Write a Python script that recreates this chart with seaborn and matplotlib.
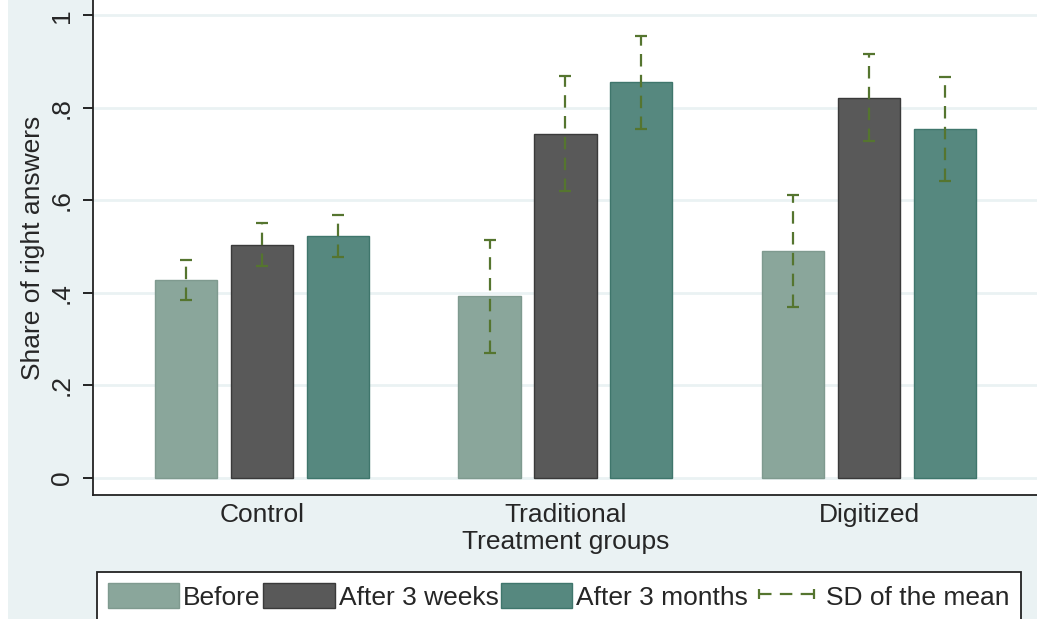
import matplotlib
matplotlib.use("Agg")
import matplotlib.pyplot as plt
import seaborn as sns
import pandas as pd
from matplotlib.patches import Patch, Rectangle
from matplotlib.lines import Line2D

groups = ["Control", "Traditional", "Digitized"]
periods = ["Before", "After 3 weeks", "After 3 months"]
before = [0.428, 0.393, 0.491]
weeks = [0.504, 0.744, 0.822]
months = [0.523, 0.855, 0.754]
sd_before = [0.043, 0.122, 0.121]
sd_weeks = [0.047, 0.124, 0.094]
sd_months = [0.046, 0.100, 0.113]

colors = ["#8AA69B", "#595959", "#56887F"]
edges = ["#7F9A8F", "#3A3A3A", "#3F766C"]
err_col = "#55752F"
bg = "#EAF2F3"
s = 19

sns.set_style("ticks")
plt.rcParams["font.family"] = ["Liberation Sans", "DejaVu Sans"]
plt.rcParams["lines.scale_dashes"] = False

df = pd.DataFrame({
    "group": groups * 3,
    "period": [p for p in periods for _ in groups],
    "share": before + weeks + months,
})
sds = [sd_before, sd_weeks, sd_months]

fig = plt.figure(figsize=(10.37, 6.19), dpi=100)
fig.patches.append(Rectangle((8 / 1037, 0), 1, 1, transform=fig.transFigure,
                             facecolor=bg, edgecolor="none", zorder=-10))
ax = fig.add_axes([93 / 1037, 124 / 619, 1 - 93 / 1037 + 0.002, 495 / 619])

sns.barplot(data=df, x="group", y="share", hue="period", order=groups,
            hue_order=periods, palette=colors, width=0.75, gap=0.18,
            errorbar=None, legend=False, saturation=1, ax=ax, zorder=3)

for cont, sd, ec in zip(ax.containers, sds, edges):
    xs, ys = [], []
    for bar in cont:
        bar.set_edgecolor(ec)
        bar.set_linewidth(1.0)
        xs.append(bar.get_x() + bar.get_width() / 2)
        ys.append(bar.get_height())
    eb = ax.errorbar(xs, ys, yerr=sd, fmt="none", ecolor=err_col, elinewidth=1.6,
                     capsize=4.3, capthick=1.6, zorder=4)
    eb.lines[2][0].set_linestyle((0, (9, 6)))

ax.set_ylim(-0.037, 1.033)
ax.set_xlim(-0.556, 2.56)
ax.set_yticks([0, 0.2, 0.4, 0.6, 0.8, 1])
ax.set_yticklabels(["0", ".2", ".4", ".6", ".8", "1"], rotation=90, va="center")
ax.yaxis.grid(True, color=bg, linewidth=2)
ax.set_axisbelow(True)
ax.tick_params(axis="y", length=7, width=1.2, pad=7, labelsize=s, color="black")
ax.tick_params(axis="x", length=0, pad=6, labelsize=s)
ax.set_xlabel("Treatment groups", size=s, labelpad=2)
ax.set_ylabel("Share of right answers", size=s, labelpad=3)
for side in ["top", "right"]:
    ax.spines[side].set_visible(False)
for side in ["left", "bottom"]:
    ax.spines[side].set_linewidth(1.3)
    ax.spines[side].set_color("#222222")

handles = [Patch(facecolor=c, edgecolor=e, linewidth=1.0) for c, e in zip(colors, edges)]
handles.append(Line2D([], [], color=err_col, linestyle=(0, (9, 6)), linewidth=1.6,
                      marker="|", markersize=7, markeredgewidth=1.6))
leg = fig.legend(handles, periods + ["SD of the mean"], loc="upper left",
                 bbox_to_anchor=(97 / 1037, 1 - 572 / 619), ncol=4, fontsize=s,
                 frameon=True, fancybox=False, edgecolor="#222222", framealpha=1,
                 handlelength=2.7, handleheight=1.1, handletextpad=0.15,
                 columnspacing=0.1, borderpad=0.42, borderaxespad=0, numpoints=2)
leg.get_frame().set_linewidth(1.3)

fig.savefig("out.png", dpi=100, facecolor="white")
